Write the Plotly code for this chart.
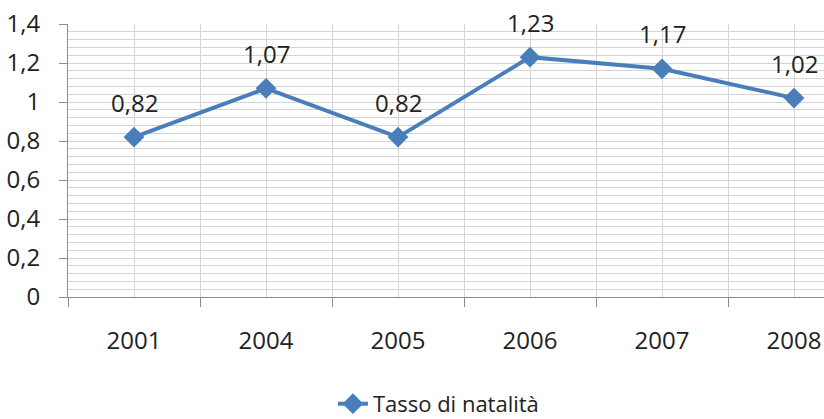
import plotly.graph_objects as go

# data
years = ["2001", "2004", "2005", "2006", "2007", "2008"]
tasso = [0.82, 1.07, 0.82, 1.23, 1.17, 1.02]
series_name = "Tasso di natalità"

BLUE = "#4a7ebb"
GRID = "#d4d4d4"
AXIS = "#8c8c8c"
FONT = "Open Sans"
FSIZE = 24

W, H = 824, 419

xpos = list(range(len(years)))
boundaries = [i - 0.5 for i in range(len(years) + 1)]

fig = go.Figure()

fig.add_trace(go.Scatter(
    x=xpos, y=tasso,
    mode="lines+markers",
    name=series_name,
    line=dict(color=BLUE, width=4),
    marker=dict(symbol="diamond", size=16, color=BLUE),
    cliponaxis=False,
))

# data labels above the points
for xi, v in zip(xpos, tasso):
    fig.add_annotation(
        x=xi, y=v, text=f"{v:.2f}".replace(".", ","),
        showarrow=False, yshift=35,
        font=dict(family=FONT, size=FSIZE, color="#222"),
    )

fig.update_layout(
    width=W, height=H,
    margin=dict(l=68, r=0, t=24, b=122),
    paper_bgcolor="white",
    plot_bgcolor="white",
    separators=",.",
    font=dict(family=FONT, size=FSIZE, color="#222"),
    showlegend=True,
    legend=dict(
        orientation="h",
        x=0.404, xref="container", xanchor="left",
        y=0.036, yref="container", yanchor="middle",
        font=dict(size=22),
    ),
    xaxis=dict(
        automargin=False,
        range=[-0.5, 5.227],
        tickvals=xpos, ticktext=years,
        ticks="", showgrid=True, gridcolor=GRID, gridwidth=1,
        showline=True, linecolor=AXIS, linewidth=1,
        zeroline=False,
        ticklabelstandoff=22,
        ticklabeloverflow="allow",
        minor=dict(tickvals=boundaries, ticks="outside", ticklen=9,
                   tickcolor=AXIS, showgrid=True, gridcolor=GRID),
    ),
    yaxis=dict(
        automargin=False,
        range=[0, 1.4], dtick=0.2, tick0=0,
        ticks="outside", ticklen=8, tickcolor=AXIS,
        showgrid=True, gridcolor=GRID, gridwidth=1,
        showline=True, linecolor=AXIS, linewidth=1,
        zeroline=False,
        ticklabelstandoff=14,
        ticklabeloverflow="allow",
        minor=dict(dtick=0.04, showgrid=True, gridcolor=GRID, ticks=""),
    ),
)

# drop the default 8px page margin so the figure fills the window
fig.write_html("out.html", config={"displayModeBar": False},
               post_script="document.body.style.margin='0';")
